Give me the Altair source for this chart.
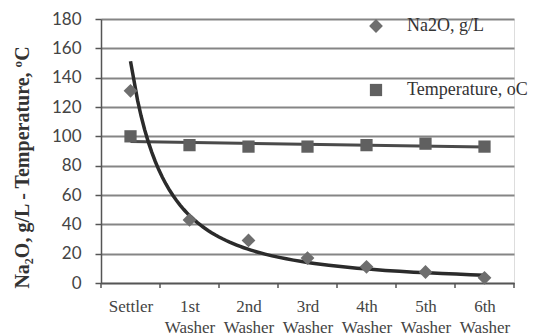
import json
import altair as alt
import pandas as pd

# Process stages along the washer train
stages = ["Settler", "1st Washer", "2nd Washer", "3rd Washer",
          "4th Washer", "5th Washer", "6th Washer"]
# Na2O concentration, g/L
na2o = [131, 43, 29, 17, 11, 7.5, 3.5]
# Temperature, degrees C
temperature = [100, 94, 93, 93, 94, 95, 93]

idx = list(range(1, len(stages) + 1))
na2o_label = "Na2O, g/L"
temp_label = "Temperature, oC"

df = pd.DataFrame({
    "pos": idx * 2,
    "value": na2o + temperature,
    "series": [na2o_label] * len(idx) + [temp_label] * len(idx),
})
df_na = df[df.series == na2o_label]
df_t = df[df.series == temp_label]
edges = pd.DataFrame({"edge": [i + 0.5 for i in range(len(stages) + 1)]})

W, H = 413, 264
SERIF = "Liberation Serif"

label_expr = f"split({json.dumps(stages)}[datum.value - 1], ' ')"

x_scale = alt.Scale(domain=[0.5, len(stages) + 0.5], nice=False, zero=False)
y_scale = alt.Scale(domain=[0, 180], nice=False)

x_axis = alt.Axis(
    values=idx, labelExpr=label_expr, ticks=False, grid=False, title=None,
    domainColor="#555", domainWidth=1.5, labelOverlap=False,
    labelFont=SERIF, labelFontSize=17, labelColor="#444",
    labelLineHeight=21, labelPadding=15, labelBaseline="top",
)
y_axis = alt.Axis(
    values=list(range(0, 181, 20)), grid=True, gridColor="#858585", gridWidth=2,
    domainColor="#555", domainWidth=1.5, tickColor="#555", tickSize=6, tickWidth=1.5,
    labelFont="Lato", labelFontSize=17, labelColor="#444", labelPadding=14,
    labelOverlap=False,
    title="Na₂O, g/L - Temperature, ºC", titleFont=SERIF, titleFontSize=20,
    titleFontWeight="bold", titleColor="#333",
    titleX=-79, titleY=148, titleBaseline="middle", titleAlign="center", titleAngle=270,
)


def xq(field):
    return alt.X(f"{field}:Q", scale=x_scale, axis=x_axis)


def yq(field):
    return alt.Y(f"{field}:Q", scale=y_scale, axis=y_axis)


points = alt.Chart(df).mark_point(filled=True, opacity=1).encode(
    x=xq("pos"),
    y=yq("value"),
    shape=alt.Shape("series:N", scale=alt.Scale(domain=[na2o_label, temp_label],
                                                range=["diamond", "square"])),
    color=alt.Color("series:N", scale=alt.Scale(domain=[na2o_label, temp_label],
                                                range=["#6e6e6e", "#606060"]),
                    legend=alt.Legend(
                        title=None, orient="none", legendX=266, legendY=-2,
                        rowPadding=46, symbolSize=150, labelFont=SERIF,
                        labelFontSize=18, labelColor="#333", labelOffset=22,
                        symbolStrokeWidth=0)),
    size=alt.Size("series:N", scale=alt.Scale(domain=[na2o_label, temp_label],
                                              range=[190, 150]), legend=None),
)

na_fit = alt.Chart(df_na).transform_regression(
    "pos", "value", method="pow"
).mark_line(color="#2b2b2b", strokeWidth=3.5).encode(x=xq("pos"), y=yq("value"))

t_fit = alt.Chart(df_t).transform_regression(
    "pos", "value", method="linear"
).mark_line(color="#4a4a4a", strokeWidth=3).encode(x=xq("pos"), y=yq("value"))

# category separators below the x axis
sep_ticks = alt.Chart(edges).mark_rule(color="#555", strokeWidth=1.5).encode(
    x=xq("edge"), y=alt.value(H), y2=alt.value(H + 5))

chart = alt.layer(sep_ticks, t_fit, na_fit, points).properties(
    width=W, height=H,
    autosize=alt.AutoSizeParams(type="none"),
    padding={"left": 101, "top": 19, "right": 20, "bottom": 52},
).configure_view(stroke=None).configure(background="white")

chart.save("out.html", embed_options={"renderer": "svg", "actions": False})
